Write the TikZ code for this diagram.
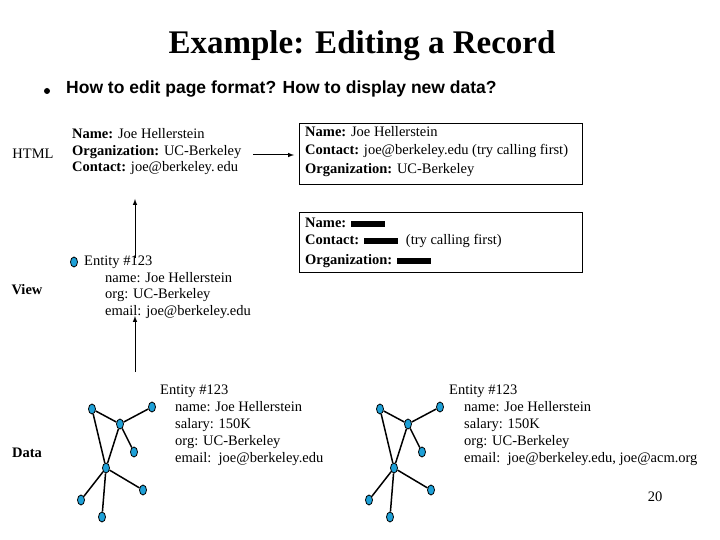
\documentclass[tikz,border=0pt]{standalone}
\usepackage{fontspec}
\setmainfont{Liberation Serif}
\setsansfont{Liberation Sans}
\usetikzlibrary{shapes.geometric}
\definecolor{netblue}{RGB}{30,160,215}

\begin{document}
\begin{tikzpicture}[x=1pt,y=-1pt]
\tikzset{
  txt/.style={anchor=west,inner sep=0pt,text height=9pt,text depth=3pt,font=\fontsize{14.5}{16}\selectfont},
  lbl/.style={inner sep=0pt,font=\fontsize{14.5}{16}\selectfont},
  vtx/.style={ellipse,draw=black,fill=netblue,line width=0.8pt,minimum width=7pt,minimum height=10pt,inner sep=0pt},
  lnk/.style={line width=1.5pt},
  up/.style={-latex,line width=1pt},
  rec/.style={draw,line width=0.8pt},
  blk/.style={fill=black,minimum width=34pt,minimum height=6pt,inner sep=0pt}
}
\useasboundingbox (0,0) rectangle (720,540);
% title and bullet
\node[inner sep=0pt,font=\bfseries\fontsize{33}{36}\selectfont] (title) at (362,46) {Example: Editing a Record};
\fill (47,91) circle (3);
\node[txt,font=\sffamily\bfseries\fontsize{17.5}{18}\selectfont] (bullet) at (66,91) {How to edit page format? How to display new data?};
% level labels
\node[lbl] (html) at (33,154) {HTML};
\node[lbl,font=\bfseries\fontsize{14.5}{16}\selectfont] (view) at (27,290) {View};
\node[lbl,font=\bfseries\fontsize{14.5}{16}\selectfont] (data) at (27,453) {Data};
% HTML page
\node[txt] (hn) at (72,136) {\textbf{Name:} Joe Hellerstein};
\node[txt] (ho) at (72,153) {\textbf{Organization:} UC-Berkeley};
\node[txt] (hc) at (72,169) {\textbf{Contact:} joe@berkeley.\,edu};
\coordinate (hr1) at (253,155);
\coordinate (hr2) at (294,155);
\draw[up] (hr1) -- (hr2);
% edited page
\draw[rec] (299,123) rectangle (582,184);
\node[txt] (en) at (305,134) {\textbf{Name:} Joe Hellerstein};
\node[txt] (ec) at (305,152) {\textbf{Contact:} joe@berkeley.edu (try calling first)};
\node[txt] (eo) at (305,171) {\textbf{Organization:} UC-Berkeley};
% format page
\draw[rec] (299,212) rectangle (582,272);
\node[txt] (fn) at (305,224) {\textbf{Name:}};
\node[blk,right=4pt] (fb1) at (fn.east) {};
\node[txt] (fc) at (305,241) {\textbf{Contact:}};
\node[blk,right=4pt] (fb2) at (fc.east) {};
\node[txt,right=8pt] (fx) at (fb2.east) {(try calling first)};
\node[txt] (fo) at (305,261) {\textbf{Organization:}};
\node[blk,right=4pt] (fb3) at (fo.east) {};
% view
\coordinate (va1) at (135,258);
\coordinate (va2) at (135,199);
\draw[up] (va1) -- (va2);
\node[vtx] (vd) at (74,262) {};
\node[txt] (ve) at (84,262) {Entity \#123};
\node[txt] (vn) at (105,279) {name: Joe Hellerstein};
\node[txt] (vo) at (105,295) {org: UC-Berkeley};
\node[txt] (vm) at (105,312) {email: joe@berkeley.edu};
\coordinate (da1) at (135,372);
\coordinate (da2) at (135,316);
\draw[up] (da1) -- (da2);
% data graphs
\foreach \dx/\p in {0/l,288/r}{
  \begin{scope}[xshift=\dx]
    \node[vtx] (\p a) at (92,409) {};
    \node[vtx] (\p b) at (152,407) {};
    \node[vtx] (\p c) at (120,424) {};
    \node[vtx] (\p d) at (134,452) {};
    \node[vtx] (\p e) at (106,468) {};
    \node[vtx] (\p f) at (143,490) {};
    \node[vtx] (\p g) at (81,500) {};
    \node[vtx] (\p h) at (102,517) {};
    \foreach \s/\t in {a/c,b/c,c/d,a/e,c/e,e/f,e/g,e/h}
      \draw[lnk] (\p\s) -- (\p\t);
  \end{scope}
}
\node[txt] (le) at (160,391) {Entity \#123};
\node[txt] (ln) at (175,408) {name: Joe Hellerstein};
\node[txt] (ls) at (175,425) {salary: 150K};
\node[txt] (lo) at (175,442) {org: UC-Berkeley};
\node[txt] (lm) at (175,459) {email:\ \ joe@berkeley.edu};
\node[txt] (re) at (449,391) {Entity \#123};
\node[txt] (rn) at (464,408) {name: Joe Hellerstein};
\node[txt] (rs) at (464,425) {salary: 150K};
\node[txt] (ro) at (464,442) {org: UC-Berkeley};
\node[txt] (rm) at (464,459) {email:\ \ joe@berkeley.edu, joe@acm.org};
\node[lbl] (page) at (655,497) {20};
\end{tikzpicture}
\end{document}
